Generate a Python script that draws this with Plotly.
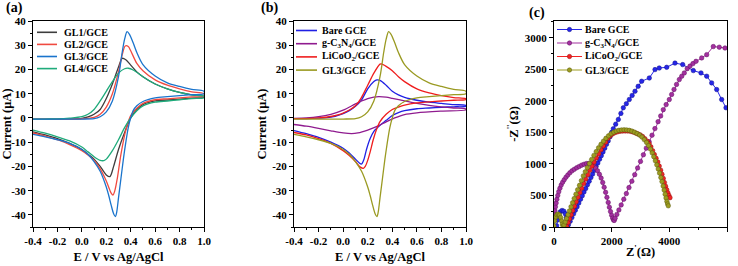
import plotly.graph_objects as go

# ---------------- Panel (a) : CV curves, GL1-GL4 ----------------
GL1_up_E = [-0.4, -0.3, -0.2, -0.1, 0.0, 0.05, 0.1, 0.15, 0.2, 0.25, 0.3, 0.33, 0.36, 0.4, 0.45, 0.5, 0.6, 0.7, 0.8, 0.9, 1.0]
GL1_up_I = [-0.5, -0.5, -0.45, -0.4, -0.2, 0.4, 1.5, 3.5, 8, 14, 21, 24.6, 24, 21.8, 19, 17, 14, 12, 10.5, 9.5, 9]
GL1_dn_E = [1.0, 0.9, 0.8, 0.7, 0.6, 0.5, 0.45, 0.4, 0.35, 0.3, 0.26, 0.23, 0.2, 0.15, 0.1, 0.05, 0.0, -0.1, -0.2, -0.3, -0.4]
GL1_dn_I = [8.5, 8.2, 7.8, 7.4, 7, 5.5, 3.5, 0, -6, -13, -20, -24.2, -23.5, -20, -17, -15, -13, -10.5, -8.5, -7, -5.7]

GL2_up_E = [-0.4, -0.3, -0.2, -0.1, 0.0, 0.1, 0.15, 0.2, 0.25, 0.3, 0.33, 0.355, 0.38, 0.4, 0.45, 0.5, 0.6, 0.7, 0.8, 0.9, 1.0]
GL2_up_I = [-0.5, -0.5, -0.5, -0.45, -0.35, 0.2, 1.5, 4.5, 10, 19, 26, 29.7, 29.5, 27.7, 22.5, 19.5, 15.7, 13.5, 12, 10.8, 10]
GL2_dn_E = [1.0, 0.9, 0.8, 0.7, 0.6, 0.5, 0.45, 0.4, 0.36, 0.32, 0.29, 0.27, 0.255, 0.24, 0.2, 0.15, 0.1, 0.05, 0.0, -0.1, -0.2, -0.3, -0.4]
GL2_dn_I = [9, 8.7, 8.3, 7.9, 7.5, 6, 4, 1, -5, -15, -25, -30, -31.8, -31, -26, -21, -17.5, -15.3, -13.5, -11, -9, -7.5, -6.2]

GL3_up_E = [-0.4, -0.3, -0.2, -0.1, 0.0, 0.1, 0.15, 0.2, 0.25, 0.3, 0.33, 0.35, 0.37, 0.39, 0.42, 0.45, 0.5, 0.6, 0.7, 0.8, 0.9, 1.0]
GL3_up_I = [-0.5, -0.5, -0.5, -0.5, -0.45, -0.3, 0.5, 2.5, 7, 17, 27, 32.5, 35.6, 34.5, 31, 27, 22, 17.3, 14.5, 13, 11.8, 11]
GL3_dn_E = [1.0, 0.9, 0.8, 0.7, 0.6, 0.5, 0.45, 0.42, 0.4, 0.38, 0.36, 0.34, 0.32, 0.3, 0.285, 0.275, 0.26, 0.24, 0.22, 0.2, 0.15, 0.1, 0.05, 0.0, -0.1, -0.2, -0.3, -0.4]
GL3_dn_I = [10, 9.6, 9.2, 8.8, 8.3, 6.8, 5, 3, 0, -4, -10, -17, -25, -33, -39, -40.7, -39.5, -36, -32, -28.5, -22, -18, -15, -13, -10.5, -9, -7.8, -6.8]

GL4_up_E = [-0.4, -0.3, -0.2, -0.1, 0.0, 0.05, 0.1, 0.15, 0.2, 0.25, 0.3, 0.35, 0.38, 0.42, 0.5, 0.6, 0.7, 0.8, 0.9, 1.0]
GL4_up_I = [-0.5, -0.45, -0.4, -0.1, 0.5, 1.5, 3.5, 7, 11, 15, 18.5, 20.3, 20.5, 19.8, 17, 14, 12, 10.5, 9.5, 9]
GL4_dn_E = [1.0, 0.9, 0.8, 0.7, 0.6, 0.5, 0.45, 0.4, 0.35, 0.3, 0.25, 0.2, 0.18, 0.15, 0.1, 0.05, 0.0, -0.1, -0.2, -0.3, -0.4]
GL4_dn_I = [8.3, 8, 7.5, 7, 6.5, 5, 3, 0, -4, -9, -13.5, -17, -17.6, -17.5, -16, -14, -12, -9.5, -7.8, -6.3, -5]

# ---------------- Panel (b) : CV curves, electrodes ----------------
Bare_up_E = [-0.4, -0.3, -0.2, -0.1, 0.0, 0.05, 0.1, 0.15, 0.2, 0.25, 0.275, 0.3, 0.35, 0.4, 0.45, 0.5, 0.6, 0.7, 0.8, 0.9, 1.0]
Bare_up_I = [-0.3, -0.3, -0.1, 0.3, 1.8, 3, 4.8, 7.5, 12, 15, 15.7, 15.5, 13.5, 11, 9.5, 8.5, 7.3, 6.5, 6, 5.5, 5.2]
Bare_dn_E = [1.0, 0.9, 0.8, 0.7, 0.6, 0.5, 0.45, 0.4, 0.35, 0.3, 0.25, 0.22, 0.19, 0.17, 0.15, 0.13, 0.1, 0.05, 0.0, -0.1, -0.2, -0.3, -0.4]
Bare_dn_I = [4.8, 4.6, 4.4, 4.1, 3.8, 3, 2.2, 1, -1, -3, -5.5, -8.5, -13, -17, -19, -18.5, -17, -14.5, -12.5, -10, -8, -6.5, -5.2]

CN_up_E = [-0.4, -0.3, -0.2, -0.1, 0.0, 0.1, 0.15, 0.2, 0.25, 0.29, 0.35, 0.4, 0.5, 0.6, 0.7, 0.8, 0.9, 1.0]
CN_up_I = [-0.2, 0, 0.5, 1.5, 3.2, 5.8, 7, 8, 8.6, 8.8, 8.6, 8.1, 7, 6, 5.2, 4.6, 4.1, 3.7]
CN_dn_E = [1.0, 0.8, 0.6, 0.5, 0.42, 0.35, 0.29, 0.2, 0.12, 0.07, 0.0, -0.1, -0.2, -0.3, -0.4]
CN_dn_I = [3.3, 2.8, 2.1, 1.4, 0, -1.6, -3.2, -5, -6.2, -6.5, -6.2, -5.3, -4.3, -3.4, -2.7]

LCO_up_E = [-0.4, -0.3, -0.2, -0.1, 0.0, 0.1, 0.15, 0.2, 0.25, 0.3, 0.31, 0.35, 0.4, 0.45, 0.5, 0.6, 0.7, 0.8, 0.9, 1.0]
LCO_up_I = [-0.3, -0.3, 0, 0.6, 2, 5, 8.5, 13.5, 18.5, 22.2, 22.3, 21.3, 19.5, 17, 15, 12, 10.3, 9.2, 8.4, 7.9]
LCO_dn_E = [1.0, 0.9, 0.8, 0.7, 0.6, 0.5, 0.45, 0.4, 0.35, 0.3, 0.27, 0.245, 0.22, 0.2, 0.18, 0.164, 0.14, 0.1, 0.05, 0.0, -0.1, -0.2, -0.3, -0.4]
LCO_dn_I = [7.6, 7.3, 7, 6.6, 6.2, 5.3, 4.5, 3.5, 1.5, -1.5, -5, -9, -14, -17.5, -20, -20.8, -20.3, -18, -15.5, -13.5, -10.5, -8.5, -7, -6]

# ---------------- Panel (c) : Nyquist plots ----------------
Bare_Zre = [90, 120, 165, 220, 280, 340, 390, 425, 450, 465, 500, 560, 620, 680, 740, 800, 860, 920, 980, 1040,
            1100, 1160, 1220, 1280, 1340, 1400, 1460, 1520, 1580, 1640, 1700, 1760, 1820, 1880, 1942, 2000, 2057,
            2140, 2231, 2320, 2404, 2510, 2612, 2710, 2809, 2920, 3040, 3306, 3503, 3650, 3908, 4196, 4463, 4832,
            5098, 5296, 5468, 5642, 5815, 5965]
Bare_Zim = [20, 110, 190, 240, 262, 250, 210, 150, 80, 20, 35, 90, 150, 210, 265, 320, 380, 440, 495, 555,
            610, 670, 725, 785, 840, 900, 960, 1015, 1075, 1130, 1190, 1250, 1310, 1365, 1430, 1500, 1558,
            1630, 1705, 1800, 1890, 1955, 2021, 2085, 2152, 2230, 2310, 2362, 2495, 2520, 2531, 2598, 2574, 2479,
            2442, 2390, 2284, 2179, 2021, 1890]

CN_Zre = [15, 30, 50, 75, 100, 130, 165, 205, 250, 300, 355, 415, 480, 550, 625, 705, 790, 875, 960, 1045,
          1130, 1210, 1290, 1365, 1440, 1510, 1575, 1635, 1690, 1740, 1790, 1835, 1880, 1920, 1960, 2000, 2035,
          2065, 2090, 2120, 2180, 2250, 2330, 2420, 2510, 2600, 2700, 2800, 2900, 3000, 3100, 3200, 3300, 3400,
          3500, 3610, 3700, 3790, 3890, 3999, 4080, 4162, 4250, 4346, 4430, 4519, 4620, 4717, 4820, 4925, 5122,
          5296, 5525, 5733, 5930]
CN_Zim = [200, 260, 320, 380, 440, 500, 560, 615, 665, 710, 750, 790, 825, 860, 890, 915, 940, 960, 980, 995,
          1005, 1008, 995, 970, 935, 890, 835, 775, 705, 630, 550, 470, 390, 315, 245, 185, 140,
          110, 105, 140, 200, 270, 350, 440, 530, 625, 725, 830, 935, 1040, 1145, 1250, 1350, 1455,
          1560, 1670, 1760, 1860, 1940, 2020, 2100, 2180, 2260, 2337, 2390, 2442, 2510, 2550, 2590, 2626, 2680,
          2732, 2860, 2850, 2837]

LCO_Zre = [440, 490, 540, 595, 650, 710, 770, 830, 895, 960, 1030, 1100, 1170, 1240, 1315, 1390, 1470, 1550,
           1630, 1710, 1790, 1870, 1950, 2030, 2110, 2200, 2290, 2380, 2470, 2560, 2650, 2740, 2830, 2910, 2990,
           3070, 3150, 3230, 3300, 3360, 3420, 3480, 3540, 3600, 3650, 3700, 3745, 3790, 3830, 3870, 3910, 3950,
           3985, 4023]
LCO_Zim = [10, 70, 130, 195, 260, 330, 400, 470, 545, 615, 690, 760, 830, 900, 965, 1030, 1095, 1160,
           1225, 1285, 1345, 1405, 1445, 1475, 1495, 1508, 1516, 1520, 1522, 1521, 1516, 1505, 1490, 1475, 1460,
           1435, 1400, 1360, 1320, 1270, 1210, 1150, 1090, 1030, 965, 900, 835, 770, 705, 645, 590, 540,
           500, 465]

GL3_Zre = [0, 25, 60, 100, 145, 190, 230, 265, 290, 315, 350, 390, 435, 485, 535, 590, 645, 700, 760, 820,
           885, 950, 1017, 1085, 1155, 1230, 1305, 1385, 1465, 1545, 1630, 1715, 1800, 1890, 1980, 2070, 2160,
           2250, 2340, 2430, 2520, 2610, 2700, 2790, 2880, 2970, 3050, 3130, 3210, 3280, 3345, 3405, 3460, 3515,
           3565, 3615, 3660, 3705, 3745, 3785, 3820, 3855, 3885, 3915, 3940, 3964]
GL3_Zim = [20, 100, 160, 195, 205, 190, 150, 95, 45, 10, 30, 80, 135, 195, 255, 320, 385, 450, 520, 590,
           660, 735, 810, 875, 940, 1005, 1070, 1135, 1195, 1255, 1310, 1360, 1405, 1445, 1478, 1503, 1520,
           1532, 1538, 1540, 1538, 1532, 1520, 1503, 1482, 1457, 1425, 1385, 1340, 1290, 1235, 1175, 1115, 1050,
           985, 920, 855, 785, 720, 650, 585, 520, 460, 405, 365, 336]

# tick labels (plain hyphen minus, as in the reference)
E_ticks = [-0.4, -0.2, 0.0, 0.2, 0.4, 0.6, 0.8, 1.0]
E_ticktext = ["-0.4", "-0.2", "0.0", "0.2", "0.4", "0.6", "0.8", "1.0"]
I_ticks = [-40, -30, -20, -10, 0, 10, 20, 30, 40]
I_ticktext = ["-40", "-30", "-20", "-10", "0", "10", "20", "30", "40"]
Zre_ticks = [0, 2000, 4000, 6000]
Zim_ticks = [0, 500, 1000, 1500, 2000, 2500, 3000]

names_a = ["GL1/GCE", "GL2/GCE", "GL3/GCE", "GL4/GCE"]
colors_a = ["#3d3d3d", "#f04a40", "#1a74cc", "#1fab7b"]
names_b = ["Bare GCE", "g-C<sub>3</sub>N<sub>4</sub>/GCE", "LiCoO<sub>2</sub>/GCE", "GL3/GCE"]
colors_b = ["#2020e4", "#8f1b8f", "#ef1d1d", "#9a9a22"]
colors_c = ["#2626e8", "#a3309f", "#f22424", "#9c9c20"]
edge_c = ["#10108a", "#601060", "#901010", "#5c5c10"]

FONT = "Liberation Serif, Times New Roman, serif"
W, H = 738, 266

fig = go.Figure()


def cv(Eu, Iu, Ed, Id, color, n):
    fig.add_trace(go.Scatter(
        x=Eu + Ed, y=Iu + Id, mode="lines",
        line=dict(color=color, width=1.3, shape="spline", smoothing=0.8),
        showlegend=False, xaxis="x" if n == 1 else "x%d" % n, yaxis="y" if n == 1 else "y%d" % n))


# panel a
cv(GL1_up_E, GL1_up_I, GL1_dn_E, GL1_dn_I, colors_a[0], 1)
cv(GL2_up_E, GL2_up_I, GL2_dn_E, GL2_dn_I, colors_a[1], 1)
cv(GL4_up_E, GL4_up_I, GL4_dn_E, GL4_dn_I, colors_a[3], 1)
cv(GL3_up_E, GL3_up_I, GL3_dn_E, GL3_dn_I, colors_a[2], 1)
# panel b
cv(Bare_up_E, Bare_up_I, Bare_dn_E, Bare_dn_I, colors_b[0], 2)
cv(CN_up_E, CN_up_I, CN_dn_E, CN_dn_I, colors_b[1], 2)
cv(LCO_up_E, LCO_up_I, LCO_dn_E, LCO_dn_I, colors_b[2], 2)
cv(GL3_up_E, GL3_up_I, GL3_dn_E, GL3_dn_I, colors_b[3], 2)

# panel c
for zr, zi, c, e in [(Bare_Zre, Bare_Zim, colors_c[0], edge_c[0]),
                     (CN_Zre, CN_Zim, colors_c[1], edge_c[1]),
                     (LCO_Zre, LCO_Zim, colors_c[2], edge_c[2]),
                     (GL3_Zre, GL3_Zim, colors_c[3], edge_c[3])]:
    fig.add_trace(go.Scatter(
        x=zr, y=zi, mode="lines+markers",
        line=dict(color=c, width=1),
        marker=dict(symbol="circle", size=4.5, color=c, line=dict(color=e, width=0.5)),
        showlegend=False, xaxis="x3", yaxis="y3", cliponaxis=True))

# geometry (pixels)
ax_px = {1: (33, 204), 2: (294, 466), 3: (554, 727)}
y_top, y_bot = 21, 227
ydom = [1 - y_bot / H, 1 - y_top / H]


def tf(size=11):
    return dict(family=FONT, size=size, color="black", weight="bold")


def axis_common(n):
    return dict(showline=True, linecolor="black", linewidth=1, mirror=True,
                ticks="outside", ticklen=4, tickwidth=1, tickcolor="black",
                showgrid=False, zeroline=False, tickfont=tf(11), automargin=False)


lay = {}
for n in (1, 2, 3):
    xk = "xaxis" if n == 1 else "xaxis%d" % n
    yk = "yaxis" if n == 1 else "yaxis%d" % n
    xa = axis_common(n)
    ya = axis_common(n)
    x0, x1 = ax_px[n]
    xa["domain"] = [x0 / W, x1 / W]
    ya["domain"] = ydom
    xa["anchor"] = "y" if n == 1 else "y%d" % n
    ya["anchor"] = "x" if n == 1 else "x%d" % n
    if n in (1, 2):
        xa.update(range=[-0.4, 1.0], tickvals=E_ticks, ticktext=E_ticktext,
                  minor=dict(ticks="outside", ticklen=2, tickcolor="black", dtick=0.1, tick0=0),
                  title=dict(text="E / V vs Ag/AgCl", font=tf(12.5), standoff=6))
        ya.update(range=[-45, 40], tickvals=I_ticks, ticktext=I_ticktext,
                  minor=dict(ticks="outside", ticklen=2, tickcolor="black", dtick=5, tick0=0),
                  title=dict(text="Current (μA)", font=tf(12.5), standoff=2))
    else:
        xa.update(range=[0, 6000], tickvals=Zre_ticks, ticktext=[str(v) for v in Zre_ticks],
                  minor=dict(ticks="outside", ticklen=2, tickcolor="black", dtick=1000, tick0=0),
                  title=dict(text="Z<sup>'</sup>(Ω)", font=tf(12.5), standoff=1))
        ya.update(range=[0, 3265], tickvals=Zim_ticks, ticktext=[str(v) for v in Zim_ticks],
                  minor=dict(ticks="outside", ticklen=2, tickcolor="black", dtick=250, tick0=0),
                  title=dict(text="-Z<sup>''</sup>(Ω)", font=tf(12.5), standoff=3))
    lay[xk] = xa
    lay[yk] = ya

# manual legends (compact rows as in reference)
shapes = []
annotations = []


def legend(n, names, colors, line_px, text_px, top_py, step, markers=None):
    x0, x1 = ax_px[n]
    w = x1 - x0
    h = y_bot - y_top
    xr = "x domain" if n == 1 else "x%d domain" % n
    yr = "y domain" if n == 1 else "y%d domain" % n
    for i, (nm, c) in enumerate(zip(names, colors)):
        yd = (y_bot - (top_py + i * step)) / h
        shapes.append(dict(type="line", xref=xr, yref=yr,
                           x0=(line_px[0] - x0) / w, x1=(line_px[1] - x0) / w, y0=yd, y1=yd,
                           line=dict(color=c, width=1.6 if markers is None else 1)))
        if markers is not None:
            xm = ((line_px[0] + line_px[1]) / 2 - x0) / w
            shapes.append(dict(type="circle", xref=xr, yref=yr, xsizemode="pixel", ysizemode="pixel",
                               xanchor=xm, yanchor=yd, x0=-2.2, x1=2.2, y0=-2.2, y1=2.2,
                               fillcolor=c, line=dict(color=markers[i], width=0.5)))
        annotations.append(dict(text=nm, xref=xr, yref=yr, x=(text_px - x0) / w, y=yd,
                                xanchor="left", yanchor="middle", showarrow=False,
                                font=tf(10)))


legend(1, names_a, colors_a, (37, 57), 62, 32.3, 12.1)
legend(2, names_b, colors_b, (296, 317), 320, 30.5, 13.2)
legend(3, names_b, colors_c, (557, 582), 583, 29.5, 13.5, markers=edge_c)

# panel labels
for txt, px, py in [("(a)", 14, 7.5), ("(b)", 269, 7.5), ("(c)", 537, 13)]:
    annotations.append(dict(text=txt, xref="paper", yref="paper", x=px / W, y=1 - py / H,
                            xanchor="center", yanchor="middle", showarrow=False, font=tf(14)))

fig.update_layout(width=W, height=H, margin=dict(l=0, r=0, t=0, b=0),
                  paper_bgcolor="white", plot_bgcolor="white",
                  font=dict(family=FONT, color="black"),
                  shapes=shapes, annotations=annotations, showlegend=False, **lay)

fig.write_html("out.html", config={"displayModeBar": False},
               post_script="document.body.style.margin='0';document.body.style.overflow='hidden';")
